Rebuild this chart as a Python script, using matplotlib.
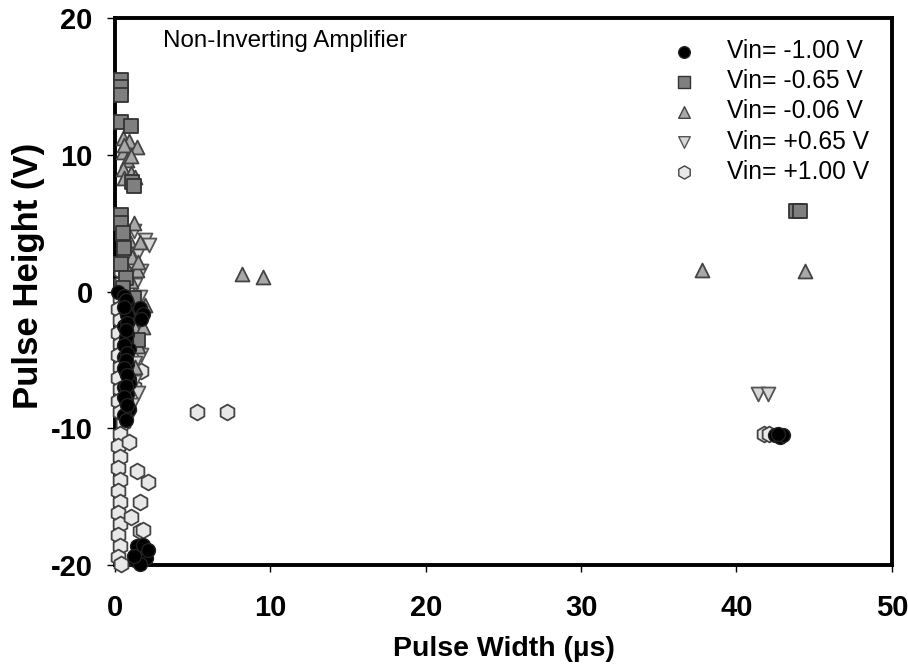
import matplotlib
matplotlib.use('Agg')
import matplotlib.pyplot as plt

plt.rcParams['font.family'] = ['Liberation Sans', 'DejaVu Sans']
plt.rcParams['axes.unicode_minus'] = False

# Vin = -1.00 V (black circles)
m100_x = [0.2, 0.6, 0.8, 0.7, 0.9, 0.6, 0.8, 0.7, 0.9, 0.6, 0.8, 0.7, 0.9, 0.6, 0.8, 0.7, 0.9, 0.6, 0.8, 0.7, 0.9,
          0.7, 0.6, 0.8, 0.7, 0.6, 0.8, 0.7, 0.6, 0.8, 0.7, 0.6, 0.8, 0.7,
          1.6, 1.8, 1.7,
          1.3, 1.5, 1.7, 1.9, 2.0, 1.6, 1.4, 1.8, 1.2, 2.1,
          42.5, 42.8, 43.0, 42.7]
m100_y = [0.0, -0.3, -0.8, -1.4, -2.0, -2.5, -3.1, -3.6, -4.2, -4.8, -5.3, -5.9, -6.4, -7.0, -7.5, -8.0, -8.6, -9.0, -1.7, -3.3, -6.7,
          -0.6, -1.1, -2.3, -2.8, -3.9, -4.5, -5.0, -5.6, -6.1, -6.9, -7.7, -8.3, -9.4,
          -1.2, -1.6, -2.0,
          -19.6, -19.0, -19.4, -19.0, -19.5, -19.9, -18.6, -18.5, -19.3, -18.9,
          -10.5, -10.6, -10.5, -10.4]

# Vin = -0.65 V (grey squares)
m065_x = [0.4, 0.4, 0.4, 0.4, 1.0, 1.1, 1.2, 0.4, 0.4, 0.5, 0.6, 0.4, 0.7, 0.5, 1.2, 1.5, 43.8, 44.1]
m065_y = [15.5, 15.0, 14.4, 12.4, 12.1, 8.0, 7.7, 5.6, 5.0, 4.3, 3.2, 2.0, 1.0, 0.3, -0.5, -3.5, 5.9, 5.9]

# Vin = -0.06 V (triangles up)
m006_x = [0.5, 0.9, 1.4, 0.5, 0.8, 0.5, 1.0, 0.6, 1.3, 0.5, 1.2, 0.9, 1.6, 0.5, 1.1, 0.7, 1.4, 1.0, 1.9, 1.6,
          1.2, 1.5, 1.8, 1.3, 0.6, 1.0, 0.5, 1.5, 8.2, 9.5, 37.8, 44.4]
m006_y = [11.2, 11.0, 10.6, 10.2, 9.6, 9.0, 8.7, 8.3, 8.4, 4.2, 5.0, 3.8, 3.6, 3.0, 2.5, 1.8, 1.6, 0.8, -1.0, -1.5,
          -2.5, -4.0, -2.6, -5.5, 10.7, 9.9, 3.6, 2.2, 1.3, 1.1, 1.6, 1.5]

# Vin = +0.65 V (triangles down)
p065_x = [1.9, 2.2, 1.5, 1.2, 1.7, 1.3, 1.6, 1.4, 1.7, 1.2, 1.5, 1.1, 0.9, 1.3, 41.4, 42.0]
p065_y = [3.8, 3.4, 2.8, 4.4, 1.5, 0.5, -0.4, -3.0, -4.6, -6.6, -7.4, -8.3, -9.2, -5.2, -7.5, -7.5]

# Vin = +1.00 V (hexagons)
p100_x = [0.3, 0.2, 0.3, 0.2, 0.3, 0.2, 0.3, 0.2, 0.3, 0.2, 0.3, 0.5, 0.3, 0.2, 0.3, 0.2, 0.3, 0.2, 0.3, 0.2,
          0.3, 0.2, 0.3, 0.2, 0.4,
          1.7, 1.4, 2.1, 1.6, 1.6, 1.8, 1.0, 0.9, 1.1, 0.9, 1.2, 0.4, 0.9, 0.4, 1.1,
          5.3, 7.2, 41.8, 42.1]
p100_y = [-0.5, -1.3, -2.1, -3.0, -3.8, -4.6, -5.5, -6.3, -7.1, -8.0, -8.8, -9.6, -10.4, -11.3, -12.1, -12.9, -13.8, -14.6, -15.4, -16.2,
          -17.0, -17.8, -18.6, -19.4, -19.9,
          -5.8, -13.1, -13.9, -15.4, -17.5, -17.4, -16.5, -11.0, -3.5, -1.8, -7.0, 1.5, 1.0, 0.6, 2.3,
          -8.8, -8.8, -10.4, -10.4]

labels = ['Vin= -1.00 V', 'Vin= -0.65 V', 'Vin= -0.06 V', 'Vin= +0.65 V', 'Vin= +1.00 V']

fig = plt.figure(figsize=(9.08, 6.72), dpi=100)
ax = fig.add_axes([0.1267, 0.159, 0.8555, 0.814])

ms = 100
ax.scatter(p100_x, p100_y, s=130, marker='h', facecolor='#e8e8e8', edgecolor='#444444', linewidth=1.3, zorder=3, clip_on=False)
ax.scatter(p065_x, p065_y, s=ms, marker='v', facecolor='#d8d8d8', edgecolor='#555555', linewidth=1.3, zorder=4, clip_on=False)
ax.scatter(m006_x, m006_y, s=ms, marker='^', facecolor='#a8a8a8', edgecolor='#444444', linewidth=1.3, zorder=5, clip_on=False)
ax.scatter(m065_x, m065_y, s=ms, marker='s', facecolor='#7f7f7f', edgecolor='#333333', linewidth=1.3, zorder=6, clip_on=False)
ax.scatter(m100_x, m100_y, s=ms, marker='o', facecolor='black', edgecolor='#222222', linewidth=1.0, zorder=7, clip_on=False)

# legend in the original order
h1 = ax.scatter([], [], s=70, marker='o', facecolor='black', edgecolor='#222222')
h2 = ax.scatter([], [], s=70, marker='s', facecolor='#7f7f7f', edgecolor='#333333')
h3 = ax.scatter([], [], s=70, marker='^', facecolor='#a8a8a8', edgecolor='#444444')
h4 = ax.scatter([], [], s=70, marker='v', facecolor='#d8d8d8', edgecolor='#555555')
h5 = ax.scatter([], [], s=90, marker='h', facecolor='#e8e8e8', edgecolor='#444444')
ax.legend([h1, h2, h3, h4, h5], labels, loc='upper right', bbox_to_anchor=(0.993, 0.993),
          frameon=False, fontsize=17.7, labelspacing=0.25, handletextpad=0.75, borderaxespad=0.3)

ax.text(0.062, 0.958, 'Non-Inverting Amplifier', transform=ax.transAxes, fontsize=17.4, va='center', ha='left')

ax.set_xlim(0, 50)
ax.set_ylim(-20, 20)
ax.set_xticks([0, 10, 20, 30, 40, 50])
ax.set_yticks([-20, -10, 0, 10, 20])
ax.tick_params(axis='x', direction='out', length=5, width=1, pad=16, labelsize=21)
ax.tick_params(axis='y', direction='out', length=6, width=1, pad=10, labelsize=21)
for lab in ax.get_xticklabels() + ax.get_yticklabels():
    lab.set_fontweight('bold')
for sp in ax.spines.values():
    sp.set_linewidth(2.8)

ax.set_xlabel('Pulse Width (\u00b5s)', fontsize=20.5, fontweight='bold', labelpad=10)
ax.set_ylabel('Pulse Height (V)', fontsize=25, fontweight='bold')
ax.yaxis.set_label_coords(-0.09, 0.528)

plt.savefig('out.png', dpi=100)
